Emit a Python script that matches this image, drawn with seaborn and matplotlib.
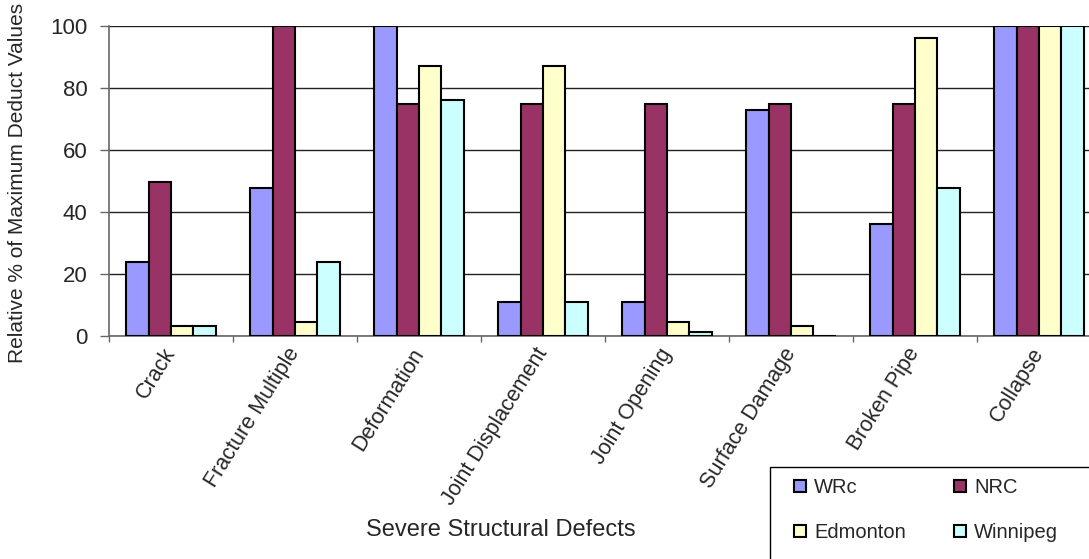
import pandas as pd
import seaborn as sns
import matplotlib.pyplot as plt
from matplotlib.patches import Rectangle
from matplotlib.ticker import FixedLocator

# Data
defects = ['Crack', 'Fracture Multiple', 'Deformation', 'Joint Displacement',
           'Joint Opening', 'Surface Damage', 'Broken Pipe', 'Collapse']
wrc = [24, 47.6, 100, 11, 11, 73, 36, 100]
nrc = [49.7, 100, 75, 75, 75, 75, 75, 100]
edmonton = [3.2, 4.5, 87, 87, 4.5, 3.2, 96, 100]
winnipeg = [3.2, 24, 76, 11, 1.3, 0, 47.7, 100]

series = ['WRc', 'NRC', 'Edmonton', 'Winnipeg']
colors = ['#9999FF', '#993366', '#FFFFCC', '#CCFFFF']


def main():
    df = pd.DataFrame({'Defect': defects * 4,
                       'Source': [s for s in series for _ in defects],
                       'Value': wrc + nrc + edmonton + winnipeg})

    sns.set_style('white')
    plt.rcParams['font.family'] = ['Liberation Sans', 'DejaVu Sans']

    fig = plt.figure(figsize=(10.89, 5.59), dpi=100)
    # axes run past the right edge, as in the (clipped) original
    ax = fig.add_axes([109 / 1089, 1 - 336 / 559, 992 / 1089, 310 / 559])

    sns.barplot(data=df, x='Defect', y='Value', hue='Source', order=defects,
                hue_order=series, palette=colors, saturation=1, width=0.72,
                edgecolor='black', linewidth=1.5, ax=ax, zorder=3)

    ax.set_xlim(-0.5, len(defects) - 0.5)
    ax.set_ylim(0, 100)
    ax.set_yticks([0, 20, 40, 60, 80, 100])
    ax.yaxis.grid(True, color='#222222', lw=1, zorder=0)
    ax.set_axisbelow(True)

    for side in ['top', 'right']:
        ax.spines[side].set_visible(False)
    ax.spines['left'].set_color('#666666')
    ax.spines['bottom'].set_color('#666666')
    ax.spines['left'].set_linewidth(1.2)
    ax.spines['bottom'].set_linewidth(1.2)

    ax.tick_params(axis='y', which='major', left=True, length=6.5, width=1,
                   color='#666666', pad=9, labelsize=16)
    ax.xaxis.set_minor_locator(FixedLocator([i - 0.5 for i in range(len(defects) + 1)]))
    ax.tick_params(axis='x', which='minor', bottom=True, length=4.5, width=1, color='#666666')
    ax.tick_params(axis='x', which='major', length=0, pad=10)
    ax.set_xticks(range(len(defects)))
    ax.set_xticklabels(defects, rotation=58, ha='right', va='center',
                       rotation_mode='anchor', fontsize=15.5)

    ax.set_xlabel('Severe Structural Defects', fontsize=17, va='center')
    ax.xaxis.set_label_coords(0.395, -0.626)
    ax.set_ylabel('Relative % of Maximum Deduct Values', fontsize=15, va='center')
    ax.yaxis.set_label_coords(-0.092, 0.495)

    # legend row by row: WRc, NRC / Edmonton, Winnipeg
    handles, labels = ax.get_legend_handles_labels()
    ax.get_legend().remove()
    order = [0, 2, 1, 3]
    fig.legend([handles[i] for i in order], [labels[i] for i in order],
               loc='upper left', ncol=2, bbox_to_anchor=(794 / 1089, 1 - 478 / 559),
               borderaxespad=0, borderpad=0, frameon=False, fontsize=14.5,
               handlelength=0.6, handleheight=0.6, handletextpad=0.4,
               labelspacing=1.3, columnspacing=2.4)
    # legend frame runs off the bottom-right corner, as in the original
    fig.add_artist(Rectangle((770 / 1089, -0.1), 0.5, 0.1 + 1 - 467 / 559,
                             transform=fig.transFigure, fill=False,
                             edgecolor='black', lw=1))

    fig.savefig('out.png', dpi=100)


if __name__ == '__main__':
    main()
